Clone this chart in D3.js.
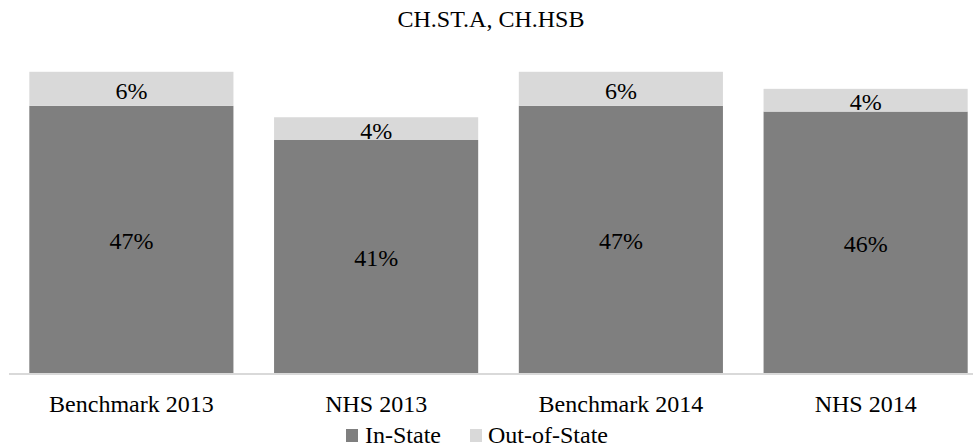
<!DOCTYPE html>
<html>
<head>
<meta charset="utf-8">
<script src="https://cdn.jsdelivr.net/npm/d3@7"></script>
<style>
  html, body { margin: 0; padding: 0; background: #fff; }
  svg { display: block; }
  text { font-family: "Liberation Serif", "DejaVu Serif", serif; fill: #000; }
</style>
</head>
<body>
<svg id="chart" width="973" height="447"></svg>
<script>
const categories = ["Benchmark 2013", "NHS 2013", "Benchmark 2014", "NHS 2014"];
const inState = [47, 41, 47, 46];
const outOfState = [6, 4, 6, 4];
const seriesNames = ["In-State", "Out-of-State"];
const seriesColors = ["#7f7f7f", "#d9d9d9"];
const titleLine = "CH.ST.A, CH.HSB";

const svg = d3.select("#chart");
const W = 973, H = 447;

const x = d3.scaleBand().domain(categories).range([9, 988]).paddingInner(0.166).paddingOuter(0.083);
const y = d3.scaleLinear().domain([0, 60]).range([373, 32]);

// title
svg.append("text").attr("x", 491).attr("y", 27).attr("text-anchor", "middle")
  .attr("font-size", 24).text(titleLine);

const rows = categories.map((c, i) => ({ cat: c, vals: [inState[i], outOfState[i]] }));
const stack = d3.stack().keys([0, 1]).value((d, k) => d.vals[k]);
const layers = stack(rows);

const g = svg.append("g");
layers.forEach((layer, li) => {
  g.selectAll(null).data(layer).enter().append("rect")
    .attr("x", d => x(d.data.cat))
    .attr("width", x.bandwidth())
    .attr("y", d => y(d[1]))
    .attr("height", d => y(d[0]) - y(d[1]))
    .attr("fill", seriesColors[li]);
  g.selectAll(null).data(layer).enter().append("text")
    .attr("x", d => x(d.data.cat) + x.bandwidth() / 2)
    .attr("y", d => (y(d[0]) + y(d[1])) / 2 + 10)
    .attr("text-anchor", "middle")
    .attr("font-size", 24)
    .text(d => (d[1] - d[0]) + "%");
});

// axis line
const xAxis = d3.axisBottom(x).tickSize(0).tickPadding(0);
const ax = svg.append("g").attr("transform", "translate(0,374)").call(xAxis);
ax.select(".domain").attr("d", "M9,0H973").attr("stroke", "#d9d9d9").attr("stroke-width", 2);
ax.selectAll(".tick text").attr("font-size", 24).attr("font-family", '"Liberation Serif", serif')
  .attr("fill", "#000").attr("dy", null).attr("y", 38);

// legend
const legend = svg.append("g");
const legItems = [{ x: 346, tx: 365 }, { x: 470, tx: 488 }];
seriesNames.forEach((name, i) => {
  legend.append("rect").attr("x", legItems[i].x).attr("y", 429).attr("width", 12).attr("height", 13)
    .attr("fill", seriesColors[i]);
  legend.append("text").attr("x", legItems[i].tx).attr("y", 443).attr("font-size", 24).text(name);
});
</script>
</body>
</html>
